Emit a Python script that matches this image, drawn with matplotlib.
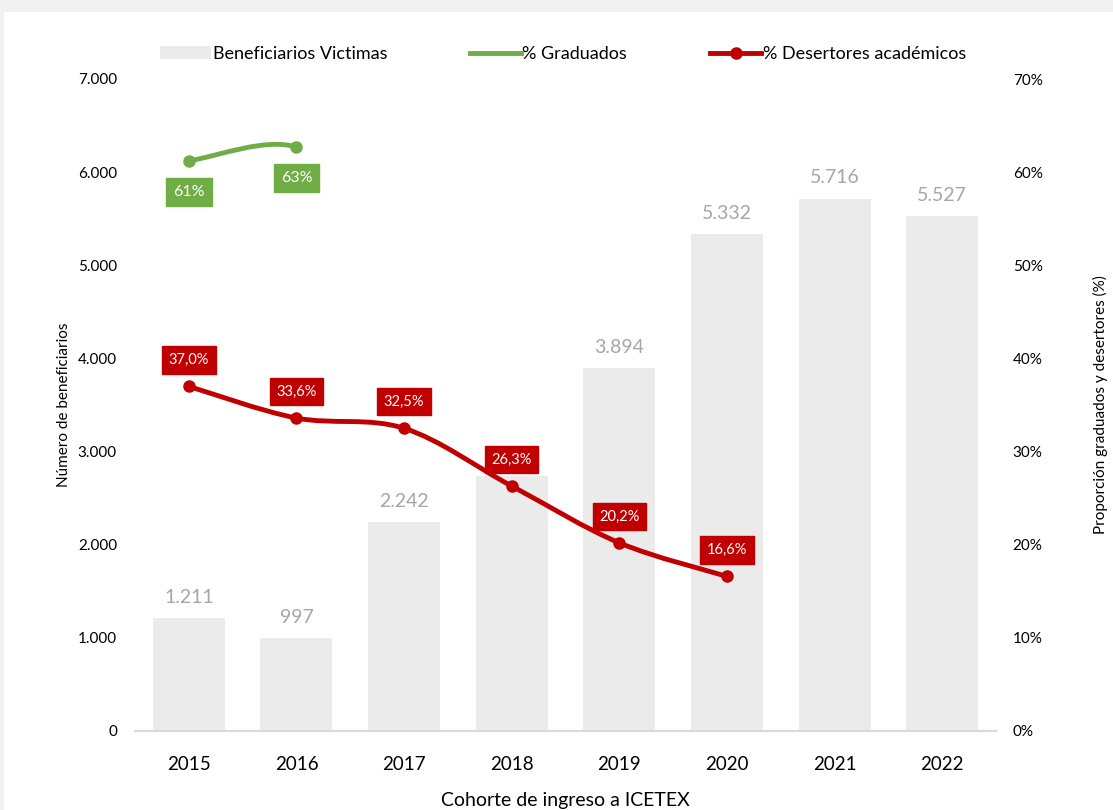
import matplotlib
matplotlib.use("Agg")
import matplotlib.pyplot as plt
import numpy as np
from matplotlib.path import Path
from matplotlib.patches import PathPatch, Rectangle
from matplotlib.lines import Line2D
from matplotlib.patches import Patch

plt.rcParams['font.family'] = ['Lato', 'DejaVu Sans']

years = ['2015', '2016', '2017', '2018', '2019', '2020', '2021', '2022']
beneficiarios = [1211, 997, 2242, 2738, 3894, 5332, 5716, 5527]
bar_labels = ['1.211', '997', '2.242', '', '3.894', '5.332', '5.716', '5.527']
graduados = [61.2, 62.7]
graduados_labels = ['61%', '63%']
desertores = [37.0, 33.6, 32.5, 26.3, 20.2, 16.6]
desertores_labels = ['37,0%', '33,6%', '32,5%', '26,3%', '20,2%', '16,6%']
left_ticks = [0, 1000, 2000, 3000, 4000, 5000, 6000, 7000]
left_tick_labels = ['0', '1.000', '2.000', '3.000', '4.000', '5.000', '6.000', '7.000']
right_ticks = [0, 10, 20, 30, 40, 50, 60, 70]
right_tick_labels = ['0%', '10%', '20%', '30%', '40%', '50%', '60%', '70%']

BAR = '#EBEBEB'
GREEN = '#70AD47'
RED = '#C00000'
GRAY_TXT = '#A6A6A6'

fig = plt.figure(figsize=(11.13, 8.10), dpi=100)
fig.patch.set_facecolor('#F1F1F1')
fig.add_artist(Rectangle((4/1113, 0), 1.0, 1 - 12/810, transform=fig.transFigure,
                         facecolor='white', edgecolor='none', zorder=0))

ax = fig.add_axes([135/1113, 79/810, 861/1113, 652/810])
ax.set_facecolor('none')
x = np.arange(len(years))
ax.bar(x, beneficiarios, width=0.67, color=BAR, zorder=1)
for xi, v, lab in zip(x, beneficiarios, bar_labels):
    if lab:
        ax.text(xi, v + 130, lab, ha='center', va='bottom', fontsize=14, color=GRAY_TXT)
ax.set_xlim(-0.5, len(years) - 0.5)
ax.set_ylim(0, 7000)
ax.set_yticks(left_ticks)
ax.set_yticklabels(left_tick_labels, fontsize=11)
ax.set_xticks(x)
ax.set_xticklabels(years, fontsize=13.5)
ax.tick_params(axis='both', length=0)
ax.tick_params(axis='y', pad=13)
ax.tick_params(axis='x', pad=18)
for s in ['top', 'right', 'left']:
    ax.spines[s].set_visible(False)
ax.spines['bottom'].set_color('#D9D9D9')
ax.spines['bottom'].set_linewidth(1.5)
ax.set_ylabel('Número de beneficiarios', fontsize=11, labelpad=5)
ax.set_xlabel('Cohorte de ingreso a ICETEX', fontsize=14, labelpad=14)

ax2 = ax.twinx()
ax2.set_ylim(0, 70)
ax2.set_yticks(right_ticks)
ax2.set_yticklabels(right_tick_labels, fontsize=11)
ax2.tick_params(axis='y', length=0, pad=12)
for s in ['top', 'right', 'left', 'bottom']:
    ax2.spines[s].set_visible(False)
ax2.set_ylabel('Proporción graduados y desertores (%)', fontsize=11, labelpad=36)


def smooth_path(xs, ys, start_tan=None, end_tan=None):
    xs = np.asarray(xs, float)
    ys = np.asarray(ys, float)
    n = len(xs)
    verts = [(xs[0], ys[0])]
    codes = [Path.MOVETO]
    for i in range(n - 1):
        p0 = np.array([xs[max(i - 1, 0)], ys[max(i - 1, 0)]])
        p1 = np.array([xs[i], ys[i]])
        p2 = np.array([xs[i + 1], ys[i + 1]])
        p3 = np.array([xs[min(i + 2, n - 1)], ys[min(i + 2, n - 1)]])
        t1 = (p2 - p0) / 6.0
        t2 = (p3 - p1) / 6.0
        if i == 0 and start_tan is not None:
            t1 = np.array(start_tan)
        if i == n - 2 and end_tan is not None:
            t2 = np.array(end_tan)
        c1 = p1 + t1
        c2 = p2 - t2
        verts += [tuple(c1), tuple(c2), tuple(p2)]
        codes += [Path.CURVE4] * 3
    return Path(verts, codes)


xd = np.arange(len(desertores))
ax2.add_patch(PathPatch(smooth_path(xd, desertores), facecolor='none', edgecolor=RED,
                        lw=3.5, capstyle='round', zorder=3))
ax2.plot(xd, desertores, 'o', color=RED, ms=8, zorder=4)

xg = np.arange(len(graduados))
ax2.add_patch(PathPatch(smooth_path(xg, graduados, start_tan=(0.3, 0.6), end_tan=(0.3, -1.0)),
                        facecolor='none', edgecolor=GREEN, lw=3.5, capstyle='round', zorder=3))
ax2.plot(xg, graduados, 'o', color=GREEN, ms=8, zorder=4)

for xi, v, lab in zip(xd, desertores, desertores_labels):
    ax2.annotate(lab, (xi, v), xytext=(0, 19), textcoords='offset points', ha='center', va='center',
                 fontsize=10.5, color='white', zorder=5,
                 bbox=dict(boxstyle='square,pad=0.45', facecolor=RED, edgecolor=RED))
for xi, v, lab in zip(xg, graduados, graduados_labels):
    ax2.annotate(lab, (xi, v), xytext=(0, -22.5), textcoords='offset points', ha='center', va='center',
                 fontsize=11.5, color='white', zorder=5,
                 bbox=dict(boxstyle='square,pad=0.45', facecolor=GREEN, edgecolor=GREEN))

handles = [Patch(facecolor=BAR, edgecolor='none', label='Beneficiarios Victimas'),
           Line2D([], [], color=GREEN, lw=3.5, label='% Graduados'),
           Line2D([], [], color=RED, lw=3.5, marker='o', ms=8, label='% Desertores académicos')]
fig.legend(handles=handles, loc='center', bbox_to_anchor=(563/1113, 1 - 54/810), ncol=3,
           frameon=False, fontsize=13, handlelength=2.8, handletextpad=0.1, columnspacing=4.6)

fig.savefig('out.png', dpi=100, facecolor=fig.get_facecolor())
